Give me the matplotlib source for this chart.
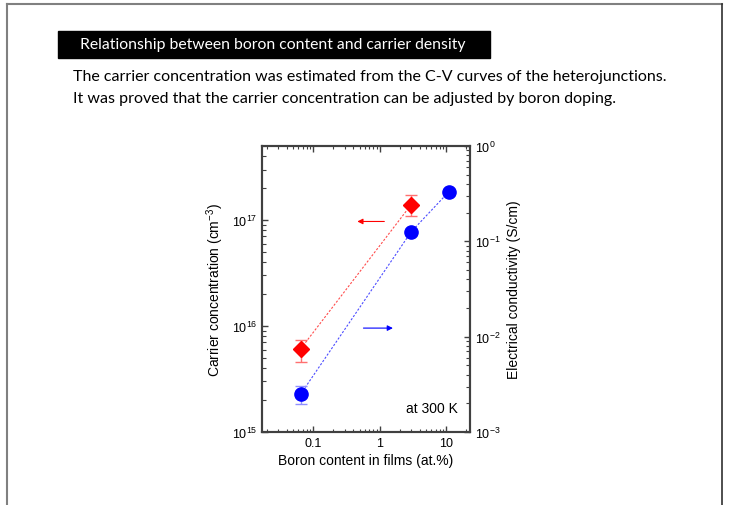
import numpy as np
import matplotlib
matplotlib.use('Agg')
import matplotlib.pyplot as plt
import matplotlib.ticker as mtick
from matplotlib.patches import Rectangle
from matplotlib.lines import Line2D

plt.rcParams['font.family'] = ['Liberation Sans', 'DejaVu Sans']
plt.rcParams['mathtext.fontset'] = 'custom'
plt.rcParams['mathtext.rm'] = 'Liberation Sans'
plt.rcParams['mathtext.it'] = 'Liberation Sans:italic'
plt.rcParams['mathtext.bf'] = 'Liberation Sans:bold'

# carrier concentration (left axis)
boron_cc = [0.065, 3.0]
carrier = [6.1e15, 1.4e17]
carrier_lo = [4.6e15, 1.09e17]
carrier_hi = [7.4e15, 1.71e17]

# electrical conductivity (right axis)
boron_ec = [0.065, 3.0, 11.0]
conduct = [2.5e-3, 0.126, 0.33]
conduct_lo = [1.97e-3, 0.126, 0.33]
conduct_hi = [3.06e-3, 0.126, 0.33]

title = "Relationship between boron content and carrier density"
body = ["The carrier concentration was estimated from the C-V curves of the heterojunctions.",
        "It was proved that the carrier concentration can be adjusted by boron doping."]

W, H = 731, 506
fig = plt.figure(figsize=(W / 100, H / 100), dpi=100)

# slide frame
fig.add_artist(Line2D([7 / W, 7 / W], [0, 1 - 5 / H], color='#808080', lw=1.5))
fig.add_artist(Line2D([7 / W, 722 / W], [1 - 5 / H, 1 - 5 / H], color='#808080', lw=1.5))
fig.add_artist(Line2D([722 / W, 722 / W], [0, 1 - 5 / H], color='#303030', lw=1.2))

# title bar
fig.add_artist(Rectangle((58 / W, 1 - 59 / H), (490 - 58) / W, 27 / H,
                         transform=fig.transFigure, color='black'))
fig.text(80 / W, 1 - 45.5 / H, title, color='white', fontsize=11.3,
         family=['Lato', 'DejaVu Sans'], va='center')
fig.text(73 / W, 1 - 77 / H, body[0], fontsize=11.5, family=['Lato', 'DejaVu Sans'], va='center')
fig.text(73 / W, 1 - 99 / H, body[1], fontsize=11.5, family=['Lato', 'DejaVu Sans'], va='center')

ax = fig.add_axes([262 / W, 1 - 433 / H, (470 - 262) / W, (433 - 147) / H])
ax2 = ax.twinx()

ax.set_xscale('log')
ax.set_yscale('log')
ax2.set_yscale('log')
ax.set_xlim(0.017, 23)
ax.set_ylim(1e15, 5e17)
ax2.set_ylim(1e-3, 1)

red = '#ff0000'
blue = '#0000ff'

cc = np.array(carrier)
ax.plot(boron_cc, carrier, ls=(0, (2, 1.5)), color=red, lw=0.8, alpha=0.7, zorder=2)
ax.errorbar(boron_cc, carrier,
            yerr=[cc - np.array(carrier_lo), np.array(carrier_hi) - cc],
            fmt='none', ecolor='#ff7070', elinewidth=1, capsize=4, zorder=2)
ax.plot(boron_cc, carrier, ls='none', marker='D', ms=8.5, color=red, zorder=3)

ec = np.array(conduct)
ax2.plot(boron_ec, conduct, ls=(0, (2, 1.5)), color=blue, lw=0.8, alpha=0.7, zorder=2)
ax2.errorbar(boron_ec[:1], conduct[:1],
             yerr=[ec[:1] - np.array(conduct_lo[:1]), np.array(conduct_hi[:1]) - ec[:1]],
             fmt='none', ecolor='#9090ff', elinewidth=1, capsize=4, zorder=2)
ax2.plot(boron_ec, conduct, ls='none', marker='o', ms=9.5, color=blue, zorder=3)

# arrows pointing to each axis
ax.annotate('', xy=(0.42, 9.7e16), xytext=(1.3, 9.7e16),
            arrowprops=dict(arrowstyle='-|>', color=red, lw=0.8, mutation_scale=8))
ax2.annotate('', xy=(1.75, 1.23e-2), xytext=(0.52, 1.23e-2),
             arrowprops=dict(arrowstyle='-|>', color=blue, lw=0.8, mutation_scale=8))

ax.text(0.94, 0.06, 'at 300 K', transform=ax.transAxes, ha='right', va='bottom', fontsize=10)

ax.xaxis.set_major_formatter(mtick.FormatStrFormatter('%g'))
for a in (ax, ax2):
    for s in a.spines.values():
        s.set_color('#404040')
        s.set_linewidth(1.5)
ax.tick_params(which='both', direction='in', top=True, colors='#404040', labelcolor='black',
               labelsize=9)
ax.tick_params(which='major', length=4, width=1)
ax.tick_params(which='minor', length=2, width=0.8)
ax.tick_params(axis='y', which='minor', length=3)
ax2.tick_params(which='both', direction='in', colors='#404040', labelcolor='black', labelsize=9)
ax2.tick_params(which='major', length=4, width=1)
ax2.tick_params(which='minor', length=3, width=0.8)
ax.yaxis.set_minor_formatter(mtick.NullFormatter())
ax2.yaxis.set_minor_formatter(mtick.NullFormatter())

ax.set_xlabel('Boron content in films (at.%)', fontsize=10, labelpad=3)
ax.set_ylabel('Carrier concentration (cm$^{-3}$)', fontsize=10, labelpad=4)
ax2.set_ylabel('Electrical conductivity (S/cm)', fontsize=10, labelpad=5)

fig.savefig('out.png', dpi=100)
